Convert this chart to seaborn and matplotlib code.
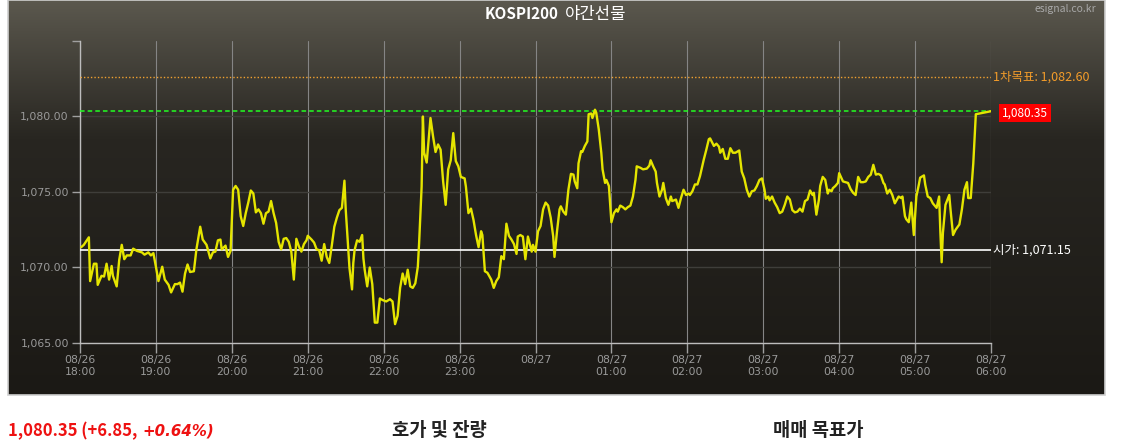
import numpy as np
import pandas as pd
import matplotlib
matplotlib.use("Agg")
import matplotlib.pyplot as plt
import matplotlib.transforms as mtransforms
import seaborn as sns

# ---------------- data ----------------
# minutes elapsed since 08/26 18:00
minutes = [1, 3, 7, 8, 11, 13, 14, 17, 19, 21, 23, 25, 26, 29, 31, 33, 35, 37, 40, 42,
           45, 49, 51, 54, 56, 58, 60, 62, 65, 67, 70, 72, 75, 77, 79, 81, 83, 85, 87, 90,
           92, 95, 97, 100, 103, 105, 107, 109, 111, 112, 115, 117, 119, 121, 123, 125, 127, 129, 131, 133,
           135, 137, 139, 141, 143, 145, 147, 149, 151, 153, 155, 157, 159, 161, 163, 165, 167, 169, 171, 173,
           175, 177, 179, 180, 183, 185, 187, 189, 191, 193, 195, 197, 199, 201, 203, 205, 207, 209, 210, 212,
           213, 215, 216, 217, 219, 221, 223, 224, 225, 227, 229, 231, 233, 235, 237, 239, 242, 245, 247, 249,
           251, 253, 255, 257, 259, 261, 263, 265, 267, 268, 270, 271, 272, 274, 277, 279, 281, 283, 285, 287,
           289, 291, 293, 295, 297, 299, 301, 304, 305, 307, 309, 311, 313, 315, 317, 318, 320, 322, 325, 327,
           329, 331, 333, 335, 337, 339, 341, 343, 345, 346, 348, 350, 352, 354, 357, 358, 360, 362, 364, 366,
           368, 370, 372, 374, 375, 377, 379, 380, 382, 384, 386, 388, 390, 391, 393, 394, 396, 397, 399, 401,
           402, 404, 405, 407, 408, 410, 412, 413, 415, 416, 418, 419, 420, 422, 424, 425, 427, 429, 431, 433,
           435, 437, 439, 440, 443, 445, 448, 450, 451, 453, 455, 456, 458, 460, 461, 463, 465, 467, 468, 471,
           473, 475, 477, 479, 481, 482, 484, 486, 488, 490, 493, 495, 497, 498, 501, 503, 505, 506, 508, 510,
           512, 514, 516, 518, 521, 523, 525, 527, 529, 531, 533, 535, 537, 539, 541, 542, 544, 545, 547, 549,
           551, 553, 555, 557, 559, 561, 563, 565, 567, 569, 571, 573, 575, 577, 579, 580, 582, 584, 585, 587,
           589, 591, 592, 594, 595, 597, 599, 600, 603, 605, 607, 609, 611, 613, 615, 617, 619, 621, 623, 625,
           627, 629, 631, 633, 635, 636, 638, 640, 642, 644, 647, 649, 650, 652, 653, 655, 657, 659, 661, 663,
           664, 667, 668, 670, 672, 674, 677, 679, 680, 681, 682, 684, 687, 688, 690, 692, 695, 697, 699, 701,
           702, 704, 706, 708, 711, 720]

prices = [1071.35, 1071.5, 1072.0, 1069.1, 1070.25, 1070.25, 1068.85, 1069.45, 1069.4, 1070.25,
          1069.2, 1070.1, 1069.45, 1068.75, 1070.5, 1071.5, 1070.55, 1070.8, 1070.8, 1071.25,
          1071.1, 1071.0, 1070.85, 1071.0, 1070.8, 1070.95, 1070.05, 1069.1, 1070.05, 1069.2,
          1068.85, 1068.35, 1068.9, 1068.9, 1069.0, 1068.4, 1069.6, 1070.2, 1069.7, 1069.75,
          1071.2, 1072.7, 1071.85, 1071.5, 1070.6, 1071.0, 1071.05, 1071.8, 1071.85, 1071.2,
          1071.45, 1070.7, 1071.1, 1075.15, 1075.4, 1075.15, 1073.4, 1072.75, 1073.6, 1074.3,
          1075.1, 1074.9, 1073.65, 1073.85, 1073.6, 1072.9, 1073.6, 1073.7, 1074.4, 1073.6,
          1072.95, 1071.7, 1071.2, 1071.9, 1071.95, 1071.7, 1071.05, 1069.2, 1071.9, 1071.4,
          1071.05, 1071.55, 1071.8, 1072.1, 1071.85, 1071.65, 1071.2, 1071.15, 1070.45, 1071.55,
          1070.7, 1070.3, 1071.45, 1072.7, 1073.3, 1073.8, 1073.95, 1075.75, 1073.85, 1071.3,
          1069.95, 1068.55, 1070.3, 1071.15, 1071.8, 1071.7, 1072.15, 1070.6, 1069.85, 1068.75,
          1070.0, 1068.9, 1066.35, 1066.35, 1067.95, 1067.85, 1067.75, 1067.9, 1067.75, 1066.25,
          1066.8, 1068.65, 1069.6, 1068.9, 1069.85, 1068.75, 1068.65, 1068.95, 1070.05, 1071.6,
          1075.35, 1080.0, 1077.6, 1076.95, 1079.9, 1078.7, 1077.65, 1078.15, 1077.8, 1075.7,
          1074.15, 1076.5, 1077.1, 1078.9, 1077.05, 1076.7, 1076.0, 1075.9, 1075.35, 1073.6,
          1073.9, 1073.15, 1072.15, 1071.35, 1072.4, 1072.15, 1069.75, 1069.65, 1069.2, 1068.65,
          1069.1, 1069.35, 1070.75, 1070.55, 1072.9, 1072.1, 1071.85, 1071.55, 1070.9, 1072.05,
          1072.15, 1072.05, 1070.55, 1072.05, 1071.05, 1071.5, 1071.05, 1072.4, 1072.75, 1073.85,
          1074.3, 1074.1, 1073.3, 1072.05, 1070.7, 1072.4, 1073.85, 1074.05, 1073.7, 1073.5,
          1075.15, 1076.2, 1076.15, 1075.7, 1075.25, 1076.9, 1077.7, 1077.65, 1078.05, 1078.35,
          1080.15, 1080.2, 1079.9, 1080.45, 1080.25, 1079.15, 1077.6, 1076.5, 1075.6, 1075.8,
          1075.4, 1074.25, 1073.0, 1073.6, 1073.85, 1073.7, 1074.1, 1074.0, 1073.85, 1074.0,
          1074.1, 1074.7, 1075.8, 1076.7, 1076.6, 1076.5, 1076.55, 1076.75, 1077.1, 1076.7,
          1076.35, 1075.6, 1074.7, 1075.15, 1075.6, 1074.6, 1074.15, 1074.7, 1074.4, 1074.5,
          1073.95, 1074.6, 1075.15, 1074.8, 1074.9, 1074.8, 1075.05, 1075.5, 1075.5, 1076.05,
          1077.15, 1077.8, 1078.5, 1078.55, 1078.05, 1078.2, 1078.0, 1077.6, 1077.85, 1077.2,
          1077.2, 1077.9, 1077.6, 1077.6, 1077.75, 1076.35, 1075.9, 1075.15, 1074.7, 1075.05,
          1075.1, 1075.4, 1075.8, 1075.9, 1075.15, 1074.55, 1074.7, 1074.45, 1074.7, 1074.3,
          1074.0, 1073.6, 1073.7, 1074.15, 1074.7, 1074.5, 1073.8, 1073.65, 1073.7, 1073.9,
          1073.7, 1074.4, 1074.5, 1075.1, 1074.8, 1074.95, 1073.5, 1074.5, 1075.4, 1076.0,
          1075.8, 1074.9, 1075.15, 1075.05, 1075.25, 1075.4, 1075.6, 1076.25, 1075.7, 1075.65,
          1075.6, 1075.2, 1074.95, 1074.8, 1076.0, 1075.65, 1075.65, 1075.7, 1076.0, 1076.15,
          1076.8, 1076.15, 1076.2, 1076.1, 1075.6, 1075.5, 1074.9, 1075.15, 1074.8, 1074.25,
          1074.7, 1074.6, 1074.7, 1073.4, 1073.2, 1073.0, 1074.3, 1072.15, 1074.7, 1075.5,
          1075.95, 1076.1, 1075.5, 1074.7, 1074.6, 1074.25, 1073.95, 1074.7, 1072.3, 1070.35,
          1072.3, 1074.15, 1074.8, 1073.85, 1072.15, 1072.5, 1072.85, 1073.85, 1075.15, 1075.65,
          1074.6, 1074.6, 1076.9, 1080.15, 1080.2, 1080.35]

tick_minutes = [0, 60, 120, 180, 240, 300, 360, 420, 480, 540, 600, 660, 720]
tick_labels = ["08/26\n18:00", "08/26\n19:00", "08/26\n20:00", "08/26\n21:00",
               "08/26\n22:00", "08/26\n23:00", "08/27\n", "08/27\n01:00",
               "08/27\n02:00", "08/27\n03:00", "08/27\n04:00", "08/27\n05:00",
               "08/27\n06:00"]
y_ticks = [1065, 1070, 1075, 1080, 1085]

target_price = 1082.60
last_price = 1080.35
open_price = 1071.15
change = 6.85
change_pct = 0.64

df = pd.DataFrame({"minute": minutes, "price": prices})

# ---------------- figure ----------------
sns.set_theme(style="dark")
plt.rcParams["font.family"] = ["Noto Sans CJK KR", "DejaVu Sans"]

W, H = 1133, 446
fig = plt.figure(figsize=(W / 100, H / 100), dpi=100, facecolor="white")

# gradient panel
bg = fig.add_axes([8 / W, 1 - 395 / H, 1097 / W, 395 / H])
top = np.array([91, 88, 78]) / 255
mid = np.array([40, 38, 33]) / 255
bot = np.array([27, 25, 21]) / 255
n = 256
tt = np.linspace(0, 1, n)[:, None]
grad = np.where(tt < 0.35, top + (mid - top) * (tt / 0.35), mid + (bot - mid) * ((tt - 0.35) / 0.65))
bg.imshow(grad[:, None, :], aspect="auto", extent=[0, 1, 0, 1], origin="upper")
bg.set_axis_off()
bg.add_patch(plt.Rectangle((0, 0), 1, 1, transform=bg.transAxes, fill=False,
                           edgecolor="#cfcfcf", linewidth=1.2, clip_on=False))

ax = fig.add_axes([80 / W, 1 - 343 / H, 911 / W, 302 / H])
ax.set_facecolor("none")

sns.lineplot(data=df, x="minute", y="price", ax=ax, color="#e5e500",
             linewidth=1.7, zorder=5)

ax.set_xlim(0, 720)
ax.set_ylim(1065, 1085)
ax.set_xticks(tick_minutes)
ax.set_xticklabels(tick_labels)
ax.set_yticks(y_ticks)
ax.set_yticklabels([f"{v:,.2f}" if v < 1085 else "" for v in y_ticks])
ax.set_xlabel("")
ax.set_ylabel("")

for v in tick_minutes:
    ax.axvline(v, color="#858585", linewidth=0.8, zorder=1)
for v in y_ticks[:-1]:
    ax.axhline(v, color="#3f3e3a", linewidth=1.0, zorder=1)

ax.grid(False)
for s in ["top", "right"]:
    ax.spines[s].set_visible(False)
for s in ["left", "bottom"]:
    ax.spines[s].set_color("#bdbdbd")
    ax.spines[s].set_linewidth(1.0)
ax.tick_params(axis="both", colors="#a0a0a0", labelcolor="#9a9a9a", labelsize=8,
               length=7, width=1.0, direction="out", pad=2, left=True, bottom=True)
ax.tick_params(axis="y", length=6)
for lab in ax.get_xticklabels() + ax.get_yticklabels():
    lab.set_family("DejaVu Sans")
    lab.set_fontsize(7.8)

# reference lines
ax.axhline(target_price, color="#f0a030", linewidth=1.0, linestyle=(0, (1, 1.5)), zorder=3)
ax.axhline(last_price, color="#22ff22", linewidth=1.1, linestyle=(0, (3, 2)), zorder=3)
ax.axhline(open_price, color="white", linewidth=1.2, zorder=4)

trans = mtransforms.blended_transform_factory(ax.transAxes, ax.transData)
ax.text(1.002, target_price, f"1차목표: {target_price:,.2f}", transform=trans,
        color="#f39c2a", fontsize=9, va="center", ha="left", clip_on=False)
ax.text(1.012, last_price - 0.12, f"{last_price:,.2f}", transform=trans,
        color="white", fontsize=8.5, va="center", ha="left", clip_on=False,
        bbox=dict(boxstyle="square,pad=0.25", facecolor="#ff0000", edgecolor="none"))
ax.text(1.002, open_price, f"시가: {open_price:,.2f}", transform=trans,
        color="white", fontsize=9, va="center", ha="left", clip_on=False)

# title & credit
fig.text(558 / W, 1 - 14 / H, "KOSPI200", color="white", fontsize=11, fontweight="bold",
         ha="right", va="center")
fig.text(565 / W, 1 - 14 / H, "야간선물", color="white", fontsize=12,
         ha="left", va="center")
fig.text(1096 / W, 1 - 9 / H, "esignal.co.kr", color="#a8a8a8", fontsize=7.5,
         ha="right", va="center")

# bottom texts
fig.text(8 / W, 1 - 431 / H, f"{last_price:,.2f} (+{change:.2f},", color="#ee1111",
         fontsize=12, fontweight="bold", ha="left", va="center")
fig.text(142 / W, 1 - 431 / H, f"+{change_pct:.2f}%)", color="#ee1111",
         fontsize=10.8, fontweight="bold", style="italic", family="DejaVu Sans",
         ha="left", va="center")
fig.text(439 / W, 1 - 430 / H, "호가 및 잔량", color="#222222", fontsize=13.5,
         fontweight="bold", ha="center", va="center")
fig.text(818 / W, 1 - 430 / H, "매매 목표가", color="#222222", fontsize=13.5,
         fontweight="bold", ha="center", va="center")

fig.savefig("out.png", dpi=100, facecolor="white")
